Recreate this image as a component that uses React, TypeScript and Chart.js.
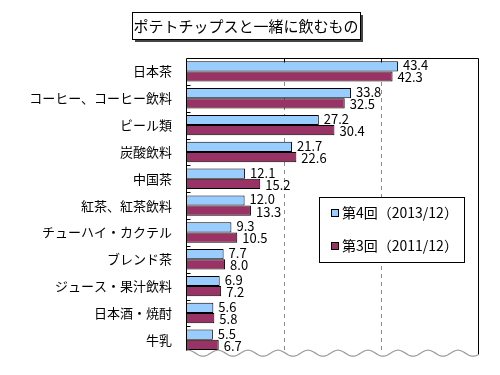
import React, { useEffect, useRef } from "react";
import { Chart, registerables } from "chart.js";
Chart.register(...registerables);

const titleText = "ポテトチップスと一緒に飲むもの";
const categories = [
  "日本茶",
  "コーヒー、コーヒー飲料",
  "ビール類",
  "炭酸飲料",
  "中国茶",
  "紅茶、紅茶飲料",
  "チューハイ・カクテル",
  "ブレンド茶",
  "ジュース・果汁飲料",
  "日本酒・焼酎",
  "牛乳",
];
const series4Label = "第4回（2013/12）";
const series3Label = "第3回（2011/12）";
const series4 = [43.4, 33.8, 27.2, 21.7, 12.1, 12.0, 9.3, 7.7, 6.9, 5.6, 5.5];
const series3 = [42.3, 32.5, 30.4, 22.6, 15.2, 13.3, 10.5, 8.0, 7.2, 5.8, 6.7];
const xMin = 0;
const xMax = 60;
const gridValues = [20, 40];

const BLUE = "#99ccff";
const RED = "#993366";
const FONT = "'Noto Sans CJK JP', 'Noto Sans', sans-serif";

const decor = {
  id: "decor",
  beforeDatasetsDraw(chart: any) {
    const { ctx, chartArea, scales } = chart;
    const { top, bottom } = chartArea;
    ctx.save();
    ctx.strokeStyle = "#8a8a8a";
    ctx.lineWidth = 1;
    ctx.setLineDash([4, 4]);
    for (const v of gridValues) {
      const px = Math.round(scales.x.getPixelForValue(v)) + 0.5;
      ctx.beginPath();
      ctx.moveTo(px, top);
      ctx.lineTo(px, bottom);
      ctx.stroke();
    }
    ctx.restore();
  },
  afterDatasetsDraw(chart: any) {
    const { ctx, chartArea, scales } = chart;
    const { left, right, top, bottom } = chartArea;
    const waveY = (x: number) => bottom - 3 * Math.cos((2 * Math.PI * (x - 398)) / 30);
    ctx.save();

    // wavy bottom
    ctx.strokeStyle = "#9a9a9a";
    ctx.lineWidth = 1.2;
    ctx.beginPath();
    for (let x = left; x <= right; x += 1) {
      const y = waveY(x);
      if (x === left) ctx.moveTo(x, y);
      else ctx.lineTo(x, y);
    }
    ctx.stroke();

    // border lines
    ctx.strokeStyle = "#000";
    ctx.lineWidth = 1;
    const l = Math.round(left) + 0.5;
    const r = Math.round(right) - 0.5;
    const t = Math.round(top) + 0.5;
    ctx.beginPath();
    ctx.moveTo(l, waveY(left));
    ctx.lineTo(l, t);
    ctx.lineTo(r, t);
    ctx.lineTo(r, waveY(right));
    ctx.stroke();

    // top ticks
    for (const v of gridValues) {
      const px = Math.round(scales.x.getPixelForValue(v)) + 0.5;
      ctx.beginPath();
      ctx.moveTo(px, t);
      ctx.lineTo(px, t + 4);
      ctx.stroke();
    }
    // left category ticks
    const n = categories.length;
    const step = (bottom - top) / n;
    for (let i = 1; i < n; i++) {
      const y = Math.round(top + step * i) + 0.5;
      ctx.beginPath();
      ctx.moveTo(l, y);
      ctx.lineTo(l + 4, y);
      ctx.stroke();
    }

    // data labels
    ctx.fillStyle = "#000";
    ctx.font = `13px ${FONT}`;
    ctx.textAlign = "left";
    ctx.textBaseline = "middle";
    chart.data.datasets.forEach((ds: any, i: number) => {
      const meta = chart.getDatasetMeta(i);
      meta.data.forEach((bar: any, j: number) => {
        const v = ds.data[j] as number;
        ctx.fillText(v.toFixed(1), bar.x + 5, bar.y + (i === 0 ? -1 : 1));
      });
    });

    // legend box
    const lx = 319, ly = 197, lw = 145, lh = 65;
    ctx.fillStyle = "#fff";
    ctx.fillRect(lx, ly, lw, lh);
    ctx.strokeStyle = "#000";
    ctx.lineWidth = 1;
    ctx.strokeRect(lx + 0.5, ly + 0.5, lw, lh);
    const items = [
      { label: series4Label, color: BLUE, y: 213 },
      { label: series3Label, color: RED, y: 246 },
    ];
    ctx.font = `14px ${FONT}`;
    ctx.textBaseline = "middle";
    for (const it of items) {
      ctx.fillStyle = it.color;
      ctx.fillRect(331, it.y - 4, 7, 8);
      ctx.strokeStyle = "#000";
      ctx.strokeRect(331.5, it.y - 3.5, 7, 7);
      ctx.fillStyle = "#000";
      ctx.fillText(it.label, 342, it.y);
    }

    // title box with shadow
    const tx = 132, ty = 12, tw = 228, th = 27;
    ctx.fillStyle = "#444";
    ctx.fillRect(tx + 3, ty + 3, tw, th);
    ctx.fillStyle = "#fff";
    ctx.fillRect(tx, ty, tw, th);
    ctx.strokeStyle = "#000";
    ctx.strokeRect(tx + 0.5, ty + 0.5, tw, th);
    ctx.fillStyle = "#000";
    ctx.font = `15px ${FONT}`;
    ctx.textAlign = "center";
    ctx.fillText(titleText, tx + tw / 2, ty + th / 2 + 1);

    ctx.restore();
  },
};

export default function App() {
  const ref = useRef<HTMLCanvasElement | null>(null);
  useEffect(() => {
    if (!ref.current) return;
    const chart = new Chart(ref.current, {
      type: "bar",
      data: {
        labels: categories,
        datasets: [
          {
            label: series4Label,
            data: series4,
            backgroundColor: BLUE,
            borderColor: "#000",
            borderWidth: 1,
            borderSkipped: false,
            categoryPercentage: 0.76,
            barPercentage: 1.0,
          },
          {
            label: series3Label,
            data: series3,
            backgroundColor: RED,
            borderColor: "#000",
            borderWidth: 1,
            borderSkipped: false,
            categoryPercentage: 0.76,
            barPercentage: 1.0,
          },
        ],
      },
      options: {
        indexAxis: "y",
        responsive: false,
        animation: false,
        layout: { padding: { top: 58, right: 21, bottom: 15, left: 0 } },
        plugins: {
          legend: { display: false },
          title: { display: false },
          tooltip: { enabled: false },
        },
        scales: {
          x: { display: false, min: xMin, max: xMax },
          y: {
            grid: { display: false, drawTicks: false },
            border: { display: false },
            ticks: {
              color: "#000",
              font: { family: FONT, size: 13 },
              padding: 14,
              autoSkip: false,
            },
            afterFit(scale: any) {
              scale.width = 186;
            },
          },
        },
      },
      plugins: [decor],
    });
    return () => chart.destroy();
  }, []);
  return (
    <div style={{ position: "absolute", left: 0, top: 0, width: 500, height: 375, background: "#fff" }}>
      <canvas ref={ref} width={500} height={375} />
    </div>
  );
}
